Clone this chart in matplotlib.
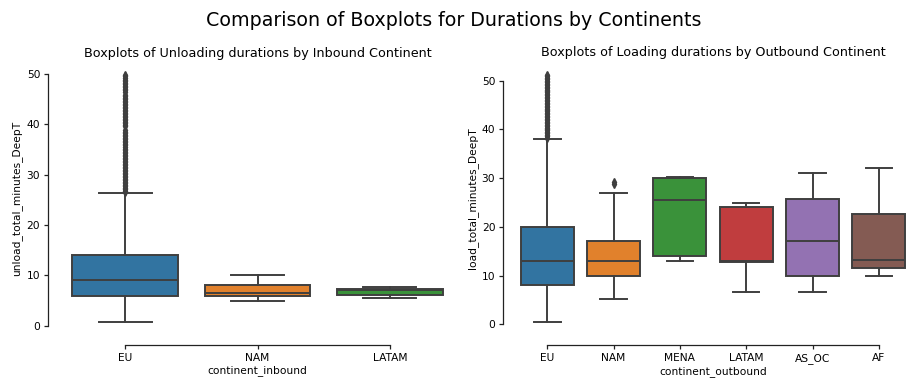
import matplotlib
matplotlib.use("Agg")
import matplotlib.pyplot as plt

# ---------------- data ----------------
inbound_cats = ["EU", "NAM", "LATAM"]
inbound_q1 = [5.96, 5.96, 6.2]
inbound_med = [9.14, 6.6, 7.0]
inbound_q3 = [14.1, 8.0, 7.35]
inbound_whislo = [0.73, 5.0, 5.6]
inbound_whishi = [26.3, 10.07, 7.75]
inbound_fliers_eu = [26.5, 26.8, 27.1, 27.4, 27.7, 28.0, 28.3, 28.6, 28.9, 29.2,
                     29.5, 29.8, 30.1, 30.4, 30.7, 31.0, 31.3, 31.6, 31.9, 32.2,
                     32.5, 32.8, 33.1, 33.4, 33.7, 34.0, 34.3, 34.6, 34.9, 35.2,
                     35.5, 35.8, 36.1, 36.4, 36.7, 37.0, 37.3, 37.6, 37.9, 38.2,
                     38.5, 38.8, 39.6, 39.9, 40.2, 40.5, 40.8, 41.1, 41.4, 41.7,
                     42.0, 42.3, 42.6, 42.9, 43.2, 43.5, 43.8, 44.1, 44.4, 44.7,
                     45.0, 45.3, 45.6, 45.9, 46.5, 46.8, 47.1, 47.4, 47.7, 48.0,
                     48.3, 48.6, 48.9, 49.2, 49.5, 49.8]
inbound_fliers = [inbound_fliers_eu, [], []]

outbound_cats = ["EU", "NAM", "MENA", "LATAM", "AS_OC", "AF"]
outbound_q1 = [8.0, 9.9, 14.1, 12.8, 9.85, 11.6]
outbound_med = [13.0, 13.0, 25.6, 13.0, 17.2, 13.3]
outbound_q3 = [20.0, 17.1, 30.0, 24.1, 25.8, 22.6]
outbound_whislo = [0.48, 5.1, 13.0, 6.7, 6.7, 10.0]
outbound_whishi = [38.0, 27.0, 30.2, 24.97, 31.0, 32.1]
outbound_fliers_eu = [38.3, 38.6, 38.9, 39.2, 39.5, 39.8, 40.1, 40.4, 40.7, 41.0,
                      41.3, 41.6, 41.9, 42.2, 42.5, 42.8, 43.1, 43.4, 43.7, 44.0,
                      44.3, 44.6, 44.9, 45.2, 45.5, 45.8, 46.1, 46.4, 46.7, 47.0,
                      47.3, 47.6, 47.9, 48.2, 48.5, 48.8, 49.1, 49.4, 49.7, 50.0,
                      50.3, 50.6, 50.9, 51.2]
outbound_fliers = [outbound_fliers_eu, [28.9, 29.2], [], [], [], []]

box_colors = ["#3274a1", "#e1812c", "#3a923a", "#c03d3e", "#9372b2", "#845b53"]
line_color = "#3f3f3f"

W, H = 907, 378
fig = plt.figure(figsize=(W / 100, H / 100), dpi=100)


def px_axes(x0, x1, ytop, ybot):
    return fig.add_axes([x0 / W, 1 - ybot / H, (x1 - x0) / W, (ybot - ytop) / H])


def draw(ax, cats, q1, med, q3, lo, hi, fl, ylim, title, xlabel, ylabel):
    stats = []
    for i in range(len(cats)):
        stats.append(dict(q1=q1[i], med=med[i], q3=q3[i], whislo=lo[i],
                          whishi=hi[i], fliers=fl[i], label=cats[i]))
    bp = ax.bxp(stats, positions=list(range(len(cats))), widths=0.8,
                patch_artist=True, showfliers=True,
                boxprops=dict(edgecolor=line_color, linewidth=1.4),
                medianprops=dict(color=line_color, linewidth=1.4),
                whiskerprops=dict(color=line_color, linewidth=1.4),
                capprops=dict(color=line_color, linewidth=1.4),
                flierprops=dict(marker="d", markerfacecolor=line_color,
                                markeredgecolor=line_color, markersize=4.2,
                                linestyle="none"))
    for i, b in enumerate(bp["boxes"]):
        b.set_facecolor(box_colors[i])
    ax.set_xlim(-0.5, len(cats) - 0.5)
    ax.set_ylim(*ylim)
    ax.set_yticks([0, 10, 20, 30, 40, 50])
    ax.set_xticks(range(len(cats)))
    ax.set_xticklabels(cats)
    for s in ["top", "right"]:
        ax.spines[s].set_visible(False)
    ax.spines["left"].set_position(("outward", 7.8))
    ax.spines["bottom"].set_position(("outward", 7.8))
    ax.spines["left"].set_bounds(0, 50)
    ax.spines["bottom"].set_bounds(0, len(cats) - 1)
    for s in ["left", "bottom"]:
        ax.spines[s].set_linewidth(0.9)
        ax.spines[s].set_color("#222222")
    ax.tick_params(labelsize=7.7, width=0.9, length=3.2, pad=2.5, color="#222222")
    ax.set_title(title, fontsize=9.2, pad=4)
    ax.set_xlabel(xlabel, fontsize=7.7, labelpad=1.5)
    ax.set_ylabel(ylabel, fontsize=7.7, labelpad=3)
    ax.patch.set_visible(False)


ax1 = px_axes(59, 456, 62.4, 334.4)
draw(ax1, inbound_cats, inbound_q1, inbound_med, inbound_q3, inbound_whislo,
     inbound_whishi, inbound_fliers, (-1.72, 52.3),
     "Boxplots of Unloading durations by Inbound Continent",
     "continent_inbound", "unload_total_minutes_DeepT")

ax2 = px_axes(514.1, 912, 61.5, 334.4)
draw(ax2, outbound_cats, outbound_q1, outbound_med, outbound_q3, outbound_whislo,
     outbound_whishi, outbound_fliers, (-2.07, 53.95),
     "Boxplots of Loading durations by Outbound Continent",
     "continent_outbound", "load_total_minutes_DeepT")

fig.suptitle("Comparison of Boxplots for Durations by Continents",
             fontsize=13.7, y=1 - 21 / H, va="center")

fig.savefig("out.png", dpi=100)
